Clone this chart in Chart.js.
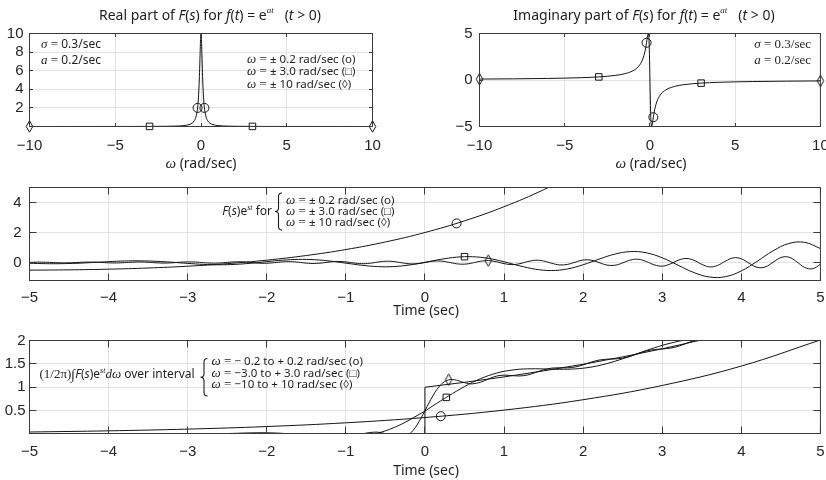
<!DOCTYPE html>
<html>
<head>
<meta charset="utf-8">
<title>F(s) for a growing exponential</title>
<script src="https://cdn.jsdelivr.net/npm/chart.js@4.4.1/dist/chart.umd.min.js"></script>
<style>
  body { margin: 0; background: #fff; }
  canvas { position: absolute; left: 0; top: 0; }
</style>
</head>
<body>
<canvas id="realChart" width="826" height="480"></canvas>
<canvas id="imagChart" width="826" height="480"></canvas>
<canvas id="signalChart" width="826" height="480"></canvas>
<canvas id="inverseChart" width="826" height="480"></canvas>
<script>
// F(s) = 1/(s - a) on the line s = sigma + j*omega, sigma = 0.3, a = 0.2
const omegaGrid = [-10, -8, -6, -5, -4, -3, -2, -1.5, -1, -0.7, -0.5, -0.4, -0.3, -0.25, -0.2, -0.15, -0.1, -0.07, -0.05, -0.03, 0,
                   0.03, 0.05, 0.07, 0.1, 0.15, 0.2, 0.25, 0.3, 0.4, 0.5, 0.7, 1, 1.5, 2, 3, 4, 5, 6, 8, 10];
const realPart = [0.001, 0.0016, 0.0028, 0.004, 0.0062, 0.011, 0.025, 0.044, 0.099, 0.2, 0.385, 0.588, 1.0, 1.38, 2.0, 3.08, 5.0, 6.71, 8.0, 9.17, 10,
                  9.17, 8.0, 6.71, 5.0, 3.08, 2.0, 1.38, 1.0, 0.588, 0.385, 0.2, 0.099, 0.044, 0.025, 0.011, 0.0062, 0.004, 0.0028, 0.0016, 0.001];
const imagPart = [0.1, 0.125, 0.167, 0.2, 0.25, 0.333, 0.499, 0.664, 0.99, 1.4, 1.92, 2.35, 3.0, 3.45, 4.0, 4.62, 5.0, 4.7, 4.0, 2.75, 0,
                  -2.75, -4.0, -4.7, -5.0, -4.62, -4.0, -3.45, -3.0, -2.35, -1.92, -1.4, -0.99, -0.664, -0.499, -0.333, -0.25, -0.2, -0.167, -0.125, -0.1];

const omegaCircle = [-0.2, 0.2];
const omegaSquare = [-3, 3];
const omegaDiamond = [-10, 10];
const realCircle = [2, 2];
const realSquare = [0.011, 0.011];
const realDiamond = [0.001, 0.001];
const imagCircle = [4, -4];
const imagSquare = [0.333, -0.333];
const imagDiamond = [0.1, -0.1];

// F(s)e^st in time for omega = 0.2, 3 and 10 rad/sec
const timeHalf = [-5, -4.5, -4, -3.5, -3, -2.5, -2, -1.5, -1, -0.5, 0, 0.5, 1, 1.5, 2];
const growthWave = [-0.510, -0.490, -0.445, -0.367, -0.247, -0.077, 0.156, 0.465, 0.863, 1.369, 2.0, 2.776, 3.719, 4.850, 6.195];

const timeFifth = [-5, -4.8, -4.6, -4.4, -4.2, -4, -3.8, -3.6, -3.4, -3.2, -3, -2.8, -2.6, -2.4, -2.2, -2, -1.8, -1.6, -1.4, -1.2,
                   -1, -0.8, -0.6, -0.4, -0.2, 0, 0.2, 0.4, 0.6, 0.8, 1, 1.2, 1.4, 1.6, 1.8, 2, 2.2, 2.4, 2.6, 2.8,
                   3, 3.2, 3.4, 3.6, 3.8, 4, 4.2, 4.4, 4.6, 4.8, 5];
const slowWave = [-0.050, -0.077, -0.078, -0.050, 0.000, 0.057, 0.099, 0.110, 0.081, 0.018, -0.060, -0.125, -0.152, -0.125, -0.048,
                  0.057, 0.154, 0.206, 0.187, 0.096, -0.043, -0.183, -0.273, -0.272, -0.168, 0.011, 0.209, 0.355, 0.385, 0.276,
                  0.049, -0.226, -0.450, -0.535, -0.430, -0.150, 0.221, 0.557, 0.727, 0.646, 0.313, -0.180, -0.670, -0.968, -0.944,
                  -0.562, 0.079, 0.772, 1.264, 1.345, 0.933];

const timeTenth = [-5, -4.9, -4.8, -4.7, -4.6, -4.5, -4.4, -4.3, -4.2, -4.1,
                   -4, -3.9, -3.8, -3.7, -3.6, -3.5, -3.4, -3.3, -3.2, -3.1,
                   -3, -2.9, -2.8, -2.7, -2.6, -2.5, -2.4, -2.3, -2.2, -2.1,
                   -2, -1.9, -1.8, -1.7, -1.6, -1.5, -1.4, -1.3, -1.2, -1.1,
                   -1, -0.9, -0.8, -0.7, -0.6, -0.5, -0.4, -0.3, -0.2, -0.1,
                   0, 0.1, 0.2, 0.3, 0.4, 0.5, 0.6, 0.7, 0.8, 0.9,
                   1, 1.1, 1.2, 1.3, 1.4, 1.5, 1.6, 1.7, 1.8, 1.9,
                   2, 2.1, 2.2, 2.3, 2.4, 2.5, 2.6, 2.7, 2.8, 2.9,
                   3, 3.1, 3.2, 3.3, 3.4, 3.5, 3.6, 3.7, 3.8, 3.9,
                   4, 4.1, 4.2, 4.3, 4.4, 4.5, 4.6, 4.7, 4.8, 4.9, 5];
const fastWave = [0.006, 0.022, 0.018, -0.003, -0.023, -0.022, -0.001, 0.023, 0.026, 0.005,
                  -0.022, -0.030, -0.010, 0.021, 0.034, 0.015, -0.019, -0.037, -0.021, 0.016,
                  0.040, 0.028, -0.012, -0.043, -0.035, 0.006, 0.044, 0.042, 0.001, -0.045,
                  -0.050, -0.009, 0.044, 0.058, 0.018, -0.042, -0.065, -0.029, 0.037, 0.072,
                  0.040, -0.032, -0.078, -0.053, 0.023, 0.083, 0.067, -0.013, -0.086, -0.082,
                  0.001, 0.087, 0.097, 0.015, -0.085, -0.111, -0.033, 0.081, 0.126, 0.054,
                  -0.073, -0.139, -0.077, 0.062, 0.151, 0.102, -0.047, -0.160, -0.129, 0.027,
                  0.166, 0.157, -0.002, -0.169, -0.186, -0.028, 0.166, 0.215, 0.063, -0.158,
                  -0.243, -0.102, 0.144, 0.269, 0.147, -0.122, -0.292, -0.195, 0.093, 0.311,
                  0.247, -0.054, -0.323, -0.302, 0.007, 0.328, 0.359, 0.051, -0.324, -0.415, -0.118];

const signalCircle = [0.4, 2.608];
const signalSquare = [0.5, 0.387];
const signalDiamond = [0.8, 0.126];

// (1/2pi) integral of F(s)e^st over -W..W, W = 0.2, 3 and 10 rad/sec, plus e^(at) itself
const timeUnit = [-5, -4, -3, -2, -1, 0, 1, 2, 3, 4, 5];
const partialNarrow = [0.042, 0.067, 0.104, 0.159, 0.239, 0.352, 0.511, 0.733, 1.038, 1.453, 2.011];

const timeMid = [-5, -4, -3, -2.5, -2, -1.5, -1, -0.8, -0.7, -0.6, -0.5, -0.4, -0.3, -0.2, -0.1, 0,
                 0.1, 0.2, 0.3, 0.4, 0.5, 0.6, 0.7, 0.8, 0.9, 1, 1.2, 1.4, 1.6, 1.8, 2, 2.2, 2.4, 2.6, 2.8, 3, 3.2, 3.4, 3.6];
const partialMid = [-0.003, 0.006, -0.012, 0.009, 0.026, -0.017, -0.066, -0.046, -0.020, 0.017, 0.067, 0.131, 0.206, 0.295, 0.393, 0.490,
                    0.603, 0.709, 0.815, 0.917, 1.014, 1.103, 1.181, 1.247, 1.300, 1.341, 1.386, 1.395, 1.387, 1.385, 1.407, 1.463,
                    1.554, 1.667, 1.787, 1.896, 1.982, 2.040, 2.079];

const timeWide = [-5, -4, -3, -2, -1, -0.9, -0.8, -0.7, -0.6, -0.5, -0.45, -0.4, -0.35, -0.3, -0.25, -0.2, -0.15, -0.1, -0.05, 0,
                  0.05, 0.1, 0.15, 0.2, 0.25, 0.3, 0.35, 0.4, 0.45, 0.5, 0.55, 0.6, 0.7, 0.8, 0.9, 1, 1.1, 1.2, 1.3, 1.4,
                  1.5, 1.6, 1.7, 1.8, 1.9, 2, 2.1, 2.2, 2.3, 2.4, 2.5, 2.6, 2.7, 2.8, 2.9, 3, 3.1, 3.2, 3.3, 3.4, 3.5, 3.6];
const partialWide = [0.001, -0.002, 0.001, 0.004, -0.021, -0.023, -0.001, 0.030, 0.039, 0.006, -0.023, -0.053, -0.075, -0.081, -0.061,
                     -0.010, 0.075, 0.193, 0.338, 0.497, 0.662, 0.815, 0.949, 1.053, 1.123, 1.159, 1.165, 1.151, 1.125, 1.098,
                     1.078, 1.072, 1.105, 1.175, 1.237, 1.259, 1.249, 1.241, 1.263, 1.316, 1.374, 1.408, 1.416, 1.415, 1.433,
                     1.479, 1.536, 1.581, 1.600, 1.606, 1.622, 1.664, 1.723, 1.776, 1.806, 1.819, 1.836, 1.874, 1.934, 1.996,
                     2.038, 2.059];

const timeExact = [-5, 0, 0, 0.5, 1, 1.5, 2, 2.5, 3, 3.5, 4];
const exactSignal = [0, 0, 1, 1.105, 1.221, 1.350, 1.492, 1.649, 1.822, 2.014, 2.226];

const inverseCircle = [0.2, 0.380];
const inverseSquare = [0.27, 0.783];
const inverseDiamond = [0.3, 1.159];

const omegaTicks = [-10, -5, 0, 5, 10];
const timeTicks = [-5, -4, -3, -2, -1, 0, 1, 2, 3, 4, 5];
const realTicks = [2, 4, 6, 8, 10];
const imagTicks = [-5, 0, 5];
const signalTicks = [0, 2, 4];
const inverseTicks = [0.5, 1, 1.5, 2];

const PAGE_W = 826, PAGE_H = 480;
const INK = '#151515', FRAME = '#3a3a3a', GRID = '#e2e2e2', LABEL = '#262626';
const SANS = '"Liberation Sans", Arial, sans-serif';
const TEXT = '"Noto Sans", "Liberation Sans", sans-serif';
const SERIF = '"Liberation Serif", "Times New Roman", serif';

const txt = s => s + 'px ' + TEXT;
const txtI = s => 'italic ' + s + 'px ' + TEXT;
const ser = s => s + 'px ' + SERIF;
const serI = s => 'italic ' + s + 'px ' + SERIF;

function fmtTick(v) {
    return v < 0 ? '\u2212' + Math.abs(v) : String(v);
}

function pts(xs, ys) {
    return xs.map((x, i) => ({ x: x, y: ys[i] }));
}

function diamondGlyph() {
    const c = document.createElement('canvas');
    c.width = 9;
    c.height = 13;
    const g = c.getContext('2d');
    g.strokeStyle = INK;
    g.lineWidth = 1;
    g.beginPath();
    g.moveTo(4.5, 0.8);
    g.lineTo(7.8, 6.5);
    g.lineTo(4.5, 12.2);
    g.lineTo(1.2, 6.5);
    g.closePath();
    g.stroke();
    return c;
}
const DIAMOND = diamondGlyph();

function curve(xs, ys, extra) {
    return Object.assign({
        data: pts(xs, ys),
        borderColor: INK,
        borderWidth: 1,
        pointRadius: 0,
        tension: 0.4,
        fill: false
    }, extra || {});
}

// markers sit on the frame at the ends of the omega range, so they are not clipped
function marks(xs, ys, style) {
    return {
        data: pts(xs, ys),
        showLine: false,
        clip: false,
        pointStyle: style,
        pointRadius: style === 'circle' ? 4.5 : 4.6,
        borderColor: INK,
        borderWidth: 1,
        backgroundColor: 'rgba(0,0,0,0)'
    };
}

function axis(range, ticks) {
    return {
        type: 'linear',
        min: range[0],
        max: range[1],
        afterBuildTicks: s => { s.ticks = ticks.map(v => ({ value: v })); },
        afterFit: s => {
            if (s.isHorizontal()) s.height = 0; else s.width = 0;
            s.paddingLeft = s.paddingRight = s.paddingTop = s.paddingBottom = 0;
        },
        grid: { color: GRID, lineWidth: 1, drawTicks: false },
        border: { display: false },
        ticks: { display: false }
    };
}

// rich text: runs of [text, font, baseline shift]
function drawRuns(ctx, x, y, runs, align) {
    let w = 0;
    runs.forEach(r => { ctx.font = r[1]; w += ctx.measureText(r[0]).width; });
    let cx = align === 'center' ? x - w / 2 : align === 'right' ? x - w : x;
    ctx.textAlign = 'left';
    ctx.textBaseline = 'middle';
    runs.forEach(r => {
        ctx.font = r[1];
        ctx.fillText(r[0], cx, y + (r[2] || 0));
        cx += ctx.measureText(r[0]).width;
    });
}

function drawBrace(ctx, x, top, bottom) {
    const mid = (top + bottom) / 2, w = 3.5, r = 3.5;
    ctx.beginPath();
    ctx.moveTo(x + w, top);
    ctx.quadraticCurveTo(x, top, x, top + r);
    ctx.lineTo(x, mid - r);
    ctx.quadraticCurveTo(x, mid, x - w, mid);
    ctx.quadraticCurveTo(x, mid, x, mid + r);
    ctx.lineTo(x, bottom - r);
    ctx.quadraticCurveTo(x, bottom, x + w, bottom);
    ctx.stroke();
}

const crisp = v => Math.round(v - 0.5) + 0.5;

function drawFrame(chart, deco) {
    const ctx = chart.ctx, a = chart.chartArea;
    const xs = chart.scales.x, ys = chart.scales.y;
    ctx.save();
    ctx.strokeStyle = FRAME;
    ctx.lineWidth = 1;
    ctx.beginPath();
    deco.xTicks.forEach(v => {
        const px = crisp(xs.getPixelForValue(v));
        ctx.moveTo(px, a.bottom); ctx.lineTo(px, a.bottom - deco.tick);
        ctx.moveTo(px, a.top); ctx.lineTo(px, a.top + deco.tick);
    });
    deco.yTicks.forEach(v => {
        const py = crisp(ys.getPixelForValue(v));
        ctx.moveTo(a.left, py); ctx.lineTo(a.left + deco.tick, py);
        ctx.moveTo(a.right, py); ctx.lineTo(a.right - deco.tick, py);
    });
    ctx.stroke();
    ctx.strokeRect(a.left, a.top, a.right - a.left, a.bottom - a.top);

    ctx.fillStyle = LABEL;
    ctx.font = '15px ' + SANS;
    ctx.textBaseline = 'middle';
    ctx.textAlign = 'center';
    deco.xTicks.forEach(v => ctx.fillText(fmtTick(v), xs.getPixelForValue(v), a.bottom + deco.xGap));
    ctx.textAlign = 'right';
    deco.yTicks.forEach(v => ctx.fillText(fmtTick(v), a.left - deco.yGap, ys.getPixelForValue(v)));

    ctx.fillStyle = '#1e1e1e';
    (deco.texts || []).forEach(t => drawRuns(ctx, t.x, t.y, t.runs, t.align));
    ctx.strokeStyle = '#1e1e1e';
    ctx.lineWidth = 1.1;
    (deco.braces || []).forEach(b => drawBrace(ctx, b.x, b.top, b.bottom));
    ctx.restore();
}

function makePanel(id, box, xRange, yRange, datasets, deco) {
    return new Chart(document.getElementById(id), {
        type: 'line',
        data: { datasets: datasets },
        options: {
            responsive: false,
            animation: false,
            events: [],
            layout: { padding: { left: box[0], top: box[1], right: PAGE_W - box[2], bottom: PAGE_H - box[3] } },
            plugins: { legend: { display: false }, tooltip: { enabled: false } },
            scales: {
                x: axis(xRange, deco.xTicks),
                y: axis(yRange, deco.yTicks)
            }
        },
        plugins: [{ id: 'axesFrame', afterDraw: chart => drawFrame(chart, deco) }]
    });
}

function titleRuns(lead) {
    return [
        [lead + ' part of ', txt(14)],
        ['F', txtI(14)], ['(', txt(14)], ['s', txtI(14)], [') for ', txt(14)],
        ['f', txtI(14)], ['(', txt(14)], ['t', txtI(14)], [') = e', txt(14)],
        ['at', serI(9), -5],
        ['   (', txt(14)], ['t', txtI(14)], [' > 0)', txt(14)]
    ];
}

function omegaLine(x, y, body) {
    return { x: x, y: y, align: 'left', runs: [['\u03c9', serI(13)], [' = ', ser(13)], [body, txt(11.5)]] };
}

const omegaLabel = [['\u03c9', serI(15)], [' (rad/sec)', txt(14)]];
const timeLabel = [['Time (sec)', txt(14)]];

makePanel('realChart', [29.5, 33.5, 372.5, 126.5], [-10, 10], [0.001, 10], [
    curve(omegaGrid, realPart, { cubicInterpolationMode: 'monotone' }),
    marks(omegaCircle, realCircle, 'circle'),
    marks(omegaSquare, realSquare, 'rect'),
    marks(omegaDiamond, realDiamond, DIAMOND)
], {
    xTicks: omegaTicks, yTicks: realTicks, tick: 3.5, xGap: 19, yGap: 6,
    texts: [
        { x: 210, y: 16, align: 'center', runs: titleRuns('Real') },
        { x: 201, y: 164, align: 'center', runs: omegaLabel },
        { x: 41, y: 45, align: 'left', runs: [['\u03c3', serI(13)], [' = ', ser(13)], ['0.3/sec', txt(12)]] },
        { x: 41, y: 61, align: 'left', runs: [['a', serI(13)], [' = ', ser(13)], ['0.2/sec', txt(12)]] },
        omegaLine(247, 60, '\u00b1 0.2 rad/sec (o)'),
        omegaLine(247, 72, '\u00b1 3.0 rad/sec (\u25a1)'),
        omegaLine(247, 84.5, '\u00b1 10 rad/sec (\u25ca)')
    ]
});

makePanel('imagChart', [479.5, 33.5, 822.5, 126.5], [-10, 10], [-5, 5], [
    curve(omegaGrid, imagPart, { cubicInterpolationMode: 'monotone' }),
    marks(omegaCircle, imagCircle, 'circle'),
    marks(omegaSquare, imagSquare, 'rect'),
    marks(omegaDiamond, imagDiamond, DIAMOND)
], {
    xTicks: omegaTicks, yTicks: imagTicks, tick: 3.5, xGap: 19, yGap: 7,
    texts: [
        { x: 644, y: 16, align: 'center', runs: titleRuns('Imaginary') },
        { x: 651, y: 164, align: 'center', runs: omegaLabel },
        { x: 811, y: 45, align: 'right', runs: [['\u03c3', serI(13)], [' = 0.3/sec', ser(13)]] },
        { x: 811, y: 61, align: 'right', runs: [['a', serI(13)], [' = 0.2/sec', ser(13)]] }
    ]
});

makePanel('signalChart', [29.5, 187.5, 822.5, 280.5], [-5, 5], [-1.2, 5], [
    curve(timeHalf, growthWave),
    curve(timeFifth, slowWave),
    curve(timeTenth, fastWave),
    marks([signalCircle[0]], [signalCircle[1]], 'circle'),
    marks([signalSquare[0]], [signalSquare[1]], 'rect'),
    marks([signalDiamond[0]], [signalDiamond[1]], DIAMOND)
], {
    xTicks: timeTicks, yTicks: signalTicks, tick: 7, xGap: 17, yGap: 8,
    texts: [
        { x: 426, y: 311, align: 'center', runs: timeLabel },
        { x: 272, y: 211.5, align: 'right', runs: [['F', txtI(12)], ['(', txt(12)], ['s', txtI(12)], [')e', txt(12)], ['st', serI(8), -4], [' for', txt(12)]] },
        omegaLine(286, 200.7, '\u00b1 0.2 rad/sec (o)'),
        omegaLine(286, 211.7, '\u00b1 3.0 rad/sec (\u25a1)'),
        omegaLine(286, 222.5, '\u00b1 10 rad/sec (\u25ca)')
    ],
    braces: [{ x: 278.5, top: 193, bottom: 230 }]
});

makePanel('inverseChart', [29.5, 340.5, 822.5, 433.5], [-5, 5], [0.01, 2], [
    curve(timeUnit, partialNarrow),
    curve(timeMid, partialMid, { tension: 0.3 }),
    curve(timeWide, partialWide, { tension: 0.3 }),
    curve(timeExact, exactSignal, { tension: 0 }),
    marks([inverseCircle[0]], [inverseCircle[1]], 'circle'),
    marks([inverseSquare[0]], [inverseSquare[1]], 'rect'),
    marks([inverseDiamond[0]], [inverseDiamond[1]], DIAMOND)
], {
    xTicks: timeTicks, yTicks: inverseTicks, tick: 7, xGap: 18.5, yGap: 4,
    texts: [
        { x: 426, y: 471.5, align: 'center', runs: timeLabel },
        { x: 39.5, y: 375, align: 'left', runs: [
            ['(1/2\u03c0)', ser(13)], ['\u222b', ser(14)], ['F', txtI(12)], ['(', txt(12)], ['s', txtI(12)], [')e', txt(12)],
            ['st', serI(8), -4], ['d\u03c9', serI(13)], [' over interval', txt(12)]] },
        { x: 211.5, y: 361.7, align: 'left', runs: [['\u03c9', serI(13)], [' = ', ser(13)], ['\u2212 0.2 to + 0.2 rad/sec (o)', txt(11.5)]] },
        { x: 211.5, y: 373.3, align: 'left', runs: [['\u03c9', serI(13)], [' = ', ser(13)], ['\u22123.0 to + 3.0 rad/sec (\u25a1)', txt(11.5)]] },
        { x: 211.5, y: 385, align: 'left', runs: [['\u03c9', serI(13)], [' = ', ser(13)], ['\u221210 to + 10 rad/sec (\u25ca)', txt(11.5)]] }
    ],
    braces: [{ x: 204, top: 358.5, bottom: 396 }]
});
</script>
</body>
</html>
